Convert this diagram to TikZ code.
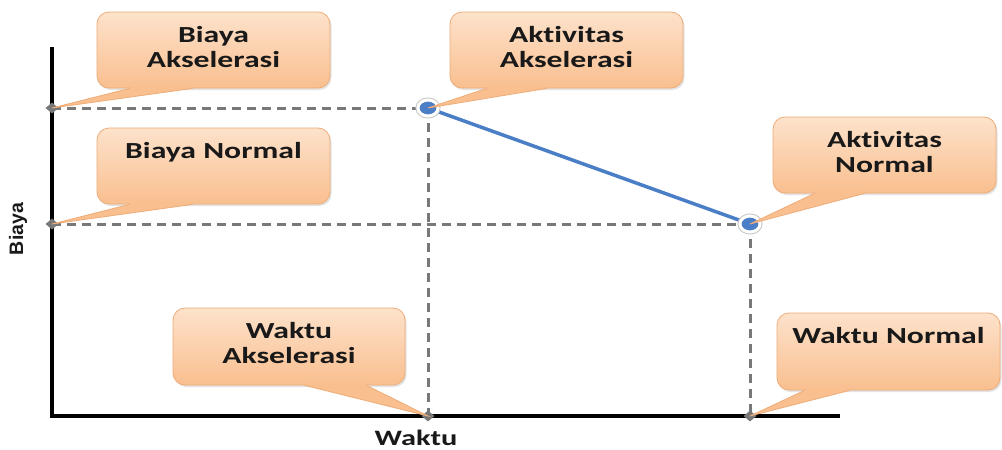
\documentclass[tikz,border=0pt]{standalone}
\usepackage{fontspec}
\newfontfamily\lab{Carlito}[FakeStretch=1.38,Ligatures=NoCommon]
\newfontfamily\axlab{Liberation Sans}
\usetikzlibrary{calc,shadows,shapes.geometric}
\definecolor{cotop}{RGB}{253,226,203}
\definecolor{cobot}{RGB}{249,191,143}
\definecolor{coline}{RGB}{238,172,120}
\definecolor{dgray}{RGB}{120,120,120}
\definecolor{bline}{RGB}{74,126,198}
\definecolor{txt}{RGB}{25,25,25}
\newcommand\mkptr[4]{%
  \fill[cobot] ($(#1.south west)+(#2,0)$) -- (#4) -- ($(#1.south west)+(#3,0)$) -- cycle;
  \fill[cobot] ($(#1.south west)+(#2+1,-2.5)$) rectangle ($(#1.south west)+(#3-1,0.5)$);
  \draw[coline,line width=0.8pt] ($(#1.south west)+(#2,0)$) -- (#4) -- ($(#1.south west)+(#3,0)$);
}
\begin{document}
\begin{tikzpicture}[x=1pt,y=-1pt,
  callbox/.style={rounded corners=12pt, top color=cotop, bottom color=cobot, draw=coline,
    line width=0.8pt, minimum width=233pt, minimum height=76pt, inner sep=0pt,
    drop shadow={opacity=0.22, shadow xshift=1.5pt, shadow yshift=-2pt}},
  lbl/.style={anchor=north, inner sep=0pt, align=center, text=txt,
    font=\lab\bfseries\fontsize{23}{25}\selectfont},
  guide/.style={draw=dgray, line width=3pt, dash pattern=on 9pt off 6pt},
  axisline/.style={draw=black, line width=3.5pt},
  bluedot/.style={ellipse, fill=bline, draw=white, line width=3pt, minimum width=20pt,
    minimum height=16pt, inner sep=0pt, preaction={draw=black!22, line width=5pt}},
  axmark/.style={diamond, fill=dgray, minimum width=13pt, minimum height=11pt, inner sep=0pt},
]
\useasboundingbox (0,0) rectangle (1002,450);
\fill[white] (0,0) rectangle (1002,450);

% key points
\coordinate (t1) at (52,108);
\coordinate (t2) at (52,224);
\coordinate (p1) at (428,108);
\coordinate (p2) at (750,224);
\coordinate (t5) at (428,416);
\coordinate (t6) at (750,416);
\coordinate (ytop) at (52,47);
\coordinate (o) at (52,416);
\coordinate (xend) at (840,416);

% guide lines
\draw[guide] (t1) -- (p1);
\draw[guide] (t2) -- (p2);
\draw[guide] (p1) -- (t5);
\draw[guide] (p2) -- (t6);

% cost line
\draw[bline, line width=3.5pt] (p1) -- (p2);

% axes
\draw[axisline] (ytop) -- (o) -- (xend);

% axis marks
\node[axmark] (m1) at (t1) {};
\node[axmark] (m2) at (t2) {};
\node[axmark] (m5) at (t5) {};
\node[axmark] (m6) at (t6) {};

% points
\node[bluedot] (d1) at (p1) {};
\node[bluedot] (d2) at (p2) {};

% axis labels
\node[font=\axlab\bfseries\fontsize{19.5}{20}\selectfont, rotate=90, text=txt, inner sep=0pt] (ylab) at (18,229) {Biaya};
\node[font=\lab\bfseries\fontsize{22}{24}\selectfont, anchor=base, text=txt, inner sep=0pt] (xlab) at (416,445) {Waktu};

% callouts
\node[callbox] (b1) at (213.5,50) {};
\mkptr{b1}{33}{96}{t1}
\node[lbl] (l1) at ([yshift=-15pt]b1.north) {Biaya\\Akselerasi};

\node[callbox] (b2) at (213.5,166) {};
\mkptr{b2}{33}{96}{t2}
\node[lbl] (l2) at ([yshift=-15pt]b2.north) {Biaya Normal};

\node[callbox] (b3) at (566.5,50) {};
\mkptr{b3}{37}{97}{d1.center}
\node[lbl] (l3) at ([yshift=-15pt]b3.north) {Aktivitas\\Akselerasi};

\node[callbox, minimum width=223pt] (b4) at (884.5,155) {};
\mkptr{b4}{42}{92}{d2.center}
\node[lbl] (l4) at ([yshift=-15pt]b4.north) {Aktivitas\\Normal};

\node[callbox, minimum width=232pt, minimum height=77pt] (b5) at (289,346.5) {};
\mkptr{b5}{132}{194}{t5}
\node[lbl] (l5) at ([yshift=-15pt]b5.north) {Waktu\\Akselerasi};

\node[callbox, minimum width=223pt, minimum height=77pt] (b6) at (888.5,351.5) {};
\mkptr{b6}{28}{73}{t6}
\node[lbl] (l6) at ([yshift=-15pt]b6.north) {Waktu Normal};
\end{tikzpicture}
\end{document}
